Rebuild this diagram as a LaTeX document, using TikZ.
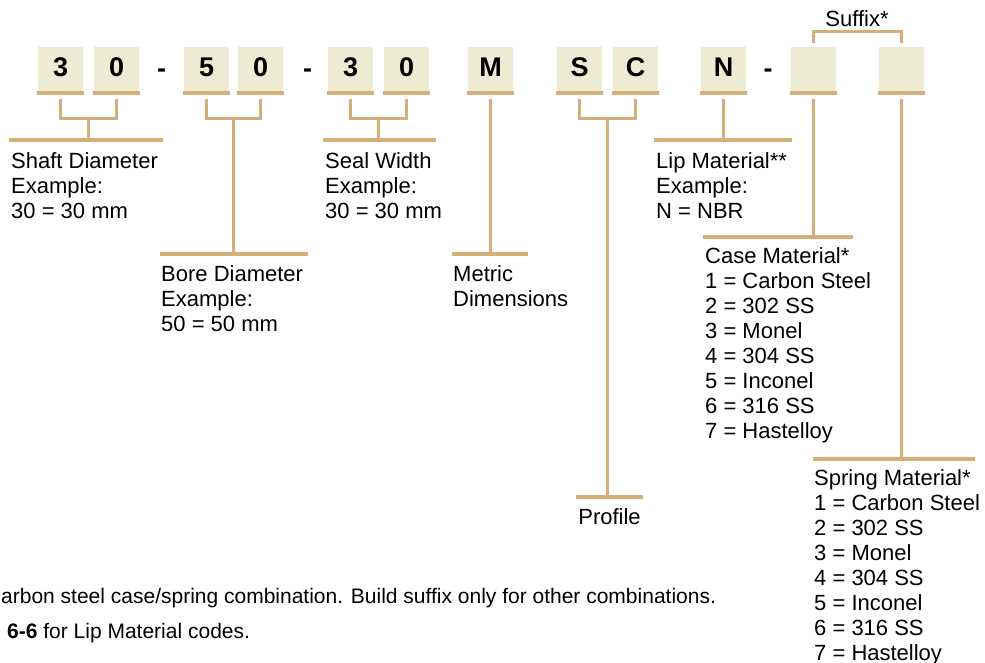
\documentclass[tikz,border=0pt]{standalone}
\usepackage{fontspec}
\setmainfont{Liberation Sans}
\usetikzlibrary{calc}
\definecolor{tanline}{HTML}{D4AF7A}
\definecolor{boxfill}{HTML}{EEEBD5}
\begin{document}
\begin{tikzpicture}[x=1pt,y=-1pt,
  codebox/.style={fill=boxfill, minimum width=45pt, minimum height=44pt, inner sep=0pt,
    anchor=north west, text depth=4pt, font=\fontsize{27}{30}\selectfont\bfseries},
  dashtxt/.style={inner sep=0pt, anchor=base, font=\fontsize{27}{30}\selectfont\bfseries},
  lbl/.style={anchor=north west, inner sep=0pt, align=left, font=\fontsize{22}{25}\selectfont},
  foot/.style={anchor=base west, inner sep=0pt, font=\fontsize{21}{25}\selectfont},
  bar/.style={draw=tanline, line width=4pt},
  conn/.style={draw=tanline, line width=3pt}]
\useasboundingbox (0,0) rectangle (985,662);

% code boxes
\node[codebox] (b1) at (38,47) {3};
\node[codebox] (b2) at (94,47) {0};
\node[dashtxt] (d1) at (161.5,77) {-};
\node[codebox] (b3) at (184,47) {5};
\node[codebox] (b4) at (238,47) {0};
\node[dashtxt] (d2) at (307.5,77) {-};
\node[codebox] (b5) at (328,47) {3};
\node[codebox] (b6) at (384,47) {0};
\node[codebox] (b7) at (468,47) {M};
\node[codebox] (b8) at (557,47) {S};
\node[codebox] (b9) at (613,47) {C};
\node[codebox] (b10) at (701,47) {N};
\node[dashtxt] (d3) at (768,77) {-};
\node[codebox] (b11) at (791,47) {};
\node[codebox] (b12) at (879,47) {};

% underlines
\foreach \b in {b1,b2,b3,b4,b5,b6,b7,b8,b9,b10,b11,b12}{
  \draw[bar] ($(\b.south west)+(-1,2)$) -- ($(\b.south east)+(1,2)$);
}

% labels
\node[lbl] (shaft) at (11,152) {Shaft Diameter\\Example:\\30 = 30 mm};
\node[lbl] (bore) at (161,265) {Bore Diameter\\Example:\\50 = 50 mm};
\node[lbl] (seal) at (325,152) {Seal Width\\Example:\\30 = 30 mm};
\node[lbl] (metric) at (453,265) {Metric\\Dimensions};
\node[lbl, anchor=north] (profile) at (609.5,508) {Profile};
\node[lbl] (lip) at (656,152) {Lip Material**\\Example:\\N = NBR};
\node[lbl] (case) at (705,247) {Case Material*\\1 = Carbon Steel\\2 = 302 SS\\3 = Monel\\4 = 304 SS\\5 = Inconel\\6 = 316 SS\\7 = Hastelloy};
\node[lbl] (spring) at (814,469) {Spring Material*\\1 = Carbon Steel\\2 = 302 SS\\3 = Monel\\4 = 304 SS\\5 = Inconel\\6 = 316 SS\\7 = Hastelloy};
\node[lbl, anchor=base] (suffix) at (857,26) {Suffix*};

% label bars
\coordinate (shaftL) at (9,140);   \coordinate (shaftR) at (163,140);
\coordinate (boreL) at (160,254);  \coordinate (boreR) at (308,254);
\coordinate (sealL) at (323,140);  \coordinate (sealR) at (436,140);
\coordinate (metL) at (452,254);   \coordinate (metR) at (528,254);
\coordinate (proL) at (576,497);   \coordinate (proR) at (643,497);
\coordinate (lipL) at (654,140);   \coordinate (lipR) at (792,140);
\coordinate (caseL) at (703,237);  \coordinate (caseR) at (853,237);
\coordinate (sprL) at (813,459);   \coordinate (sprR) at (975,459);
\draw[bar] (shaftL) -- (shaftR);
\draw[bar] (boreL) -- (boreR);
\draw[bar] (sealL) -- (sealR);
\draw[bar] (metL) -- (metR);
\draw[bar] (proL) -- (proR);
\draw[bar] (lipL) -- (lipR);
\draw[bar] (caseL) -- (caseR);
\draw[bar] (sprL) -- (sprR);

% brackets and stems
\draw[conn] ($(b1.south)+(0,8)$) |- ($(b2.south)+(0,27)$) -- ($(b2.south)+(0,8)$);
\draw[conn] ($(b1.south)!0.5!(b2.south)+(0,27)$) -- ($(b1.south)!0.5!(b2.south)+(0,49)$);
\draw[conn] ($(b3.south)+(0,8)$) |- ($(b4.south)+(0,27)$) -- ($(b4.south)+(0,8)$);
\draw[conn] ($(b3.south)!0.5!(b4.south)+(0,27)$) -- ($(b3.south)!0.5!(b4.south)+(0,163)$);
\draw[conn] ($(b5.south)+(0,8)$) |- ($(b6.south)+(0,27)$) -- ($(b6.south)+(0,8)$);
\draw[conn] ($(b5.south)!0.5!(b6.south)+(0,27)$) -- ($(b5.south)!0.5!(b6.south)+(0,49)$);
\draw[conn] ($(b7.south)+(0,8)$) -- ($(b7.south)+(0,163)$);
\draw[conn] ($(b8.south)+(0,8)$) |- ($(b9.south)+(0,27)$) -- ($(b9.south)+(0,8)$);
\draw[conn] ($(b8.south)!0.5!(b9.south)+(0,27)$) -- ($(b8.south)!0.5!(b9.south)+(0,406)$);
\draw[conn] ($(b10.south)+(0,8)$) -- ($(b10.south)+(0,49)$);
\draw[conn] ($(b11.south)+(0,8)$) -- ($(b11.south)+(0,146)$);
\draw[conn] ($(b12.south)+(0,8)$) -- ($(b12.south)+(0,368)$);
% suffix bracket
\draw[conn] ($(b11.north)+(0,-4)$) |- ($(b12.north)+(0,-16)$) -- ($(b12.north)+(0,-4)$);

% footnotes
\node[foot] (fn1) at (1,603) {arbon steel case/spring combination. Build suffix only for other combinations.};
\node[foot] (fn2) at (7,638) {\textbf{6-6} for Lip Material codes.};
\end{tikzpicture}
\end{document}
